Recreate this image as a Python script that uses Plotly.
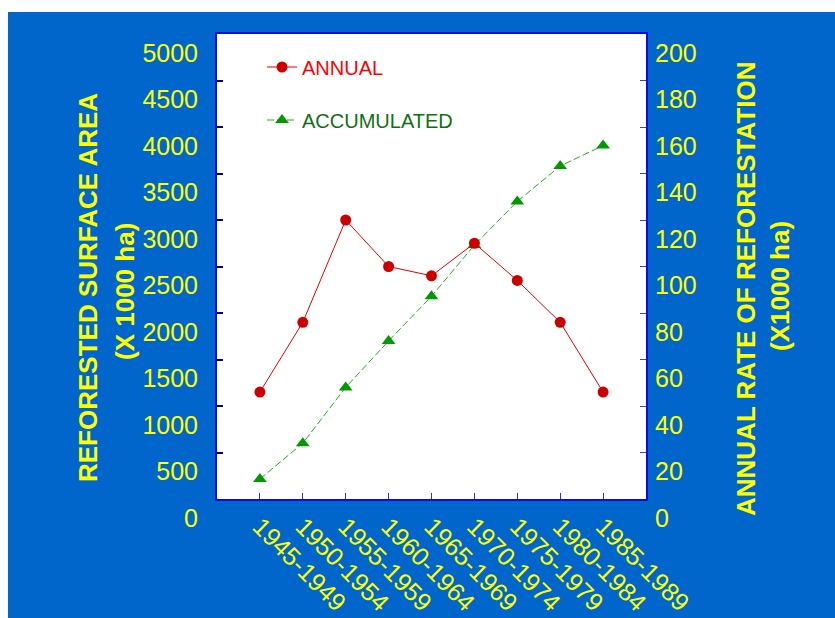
import plotly.graph_objects as go

# ---- data ----
periods = ["1945-1949", "1950-1954", "1955-1959", "1960-1964", "1965-1969",
           "1970-1974", "1975-1979", "1980-1984", "1985-1989"]
annual = [46, 76, 120, 100, 96, 110, 94, 76, 46]            # right axis (X1000 ha / yr)
accumulated = [215, 600, 1200, 1700, 2180, 2730, 3200, 3580, 3800]  # left axis (X1000 ha)
left_ticks = [0, 500, 1000, 1500, 2000, 2500, 3000, 3500, 4000, 4500, 5000]
right_ticks = [0, 20, 40, 60, 80, 100, 120, 140, 160, 180, 200]

# ---- layout geometry (pixels) ----
W, H = 835, 618
L, R, T, B = 217, 835 - 646, 34, 618 - 499
PW, PH = W - L - R, H - T - B

def px(xp):
    return (xp - L) / PW

def py(yp):
    return (H - B - yp) / PH

FONT = "Arial, Liberation Sans, sans-serif"
YELLOW = "#FFFF00"
BG = "#0066CC"

fig = go.Figure()
fig.add_trace(go.Scatter(
    x=periods, y=annual, name="ANNUAL", yaxis="y2", mode="lines+markers",
    line=dict(color="#E00000", width=1),
    marker=dict(symbol="circle", size=11, color="#CC0000"),
    legend="legend", cliponaxis=False,
))
fig.add_trace(go.Scatter(
    x=periods, y=accumulated, name="ACCUMULATED", yaxis="y", mode="lines+markers",
    line=dict(color="#22AA22", width=1, dash="7px,3px"),
    marker=dict(symbol="triangle-up", size=12, color="#009900"),
    legend="legend2", cliponaxis=False,
))

axis_line = "#0A0AE6"
fig.update_layout(
    width=W, height=H,
    margin=dict(l=L, r=R, t=T, b=B, pad=0, autoexpand=False),
    paper_bgcolor=BG, plot_bgcolor="white",
    font=dict(family=FONT, color=YELLOW, size=25),
    xaxis=dict(
        type="category", range=[-1, 9], showgrid=False, zeroline=False, automargin=False,
        showline=True, linecolor=axis_line, linewidth=2, mirror=True,
        ticks="inside", ticklen=6, tickwidth=1, tickcolor="#3030C0",
        tickangle=45, tickfont=dict(size=25, color=YELLOW, family=FONT),
        ticklabelstandoff=1,
    ),
    yaxis=dict(
        range=[0, 5000], tickvals=left_ticks, showgrid=False, zeroline=False, automargin=False,
        showline=True, linecolor=axis_line, linewidth=2,
        ticks="inside", ticklen=6, tickwidth=2, tickcolor="#000080",
        tickfont=dict(size=25, color=YELLOW, family=FONT),
        ticklabelshift=19, ticklabelstandoff=12,
    ),
    yaxis2=dict(
        range=[0, 200], tickvals=right_ticks, overlaying="y", side="right",
        showgrid=False, zeroline=False, automargin=False,
        showline=True, linecolor=axis_line, linewidth=2,
        ticks="inside", ticklen=6, tickwidth=1, tickcolor="#4040C0",
        tickfont=dict(size=25, color=YELLOW, family=FONT),
        ticklabelshift=19, ticklabelstandoff=2,
    ),
    legend=dict(
        x=px(262), y=py(67), xanchor="left", yanchor="middle",
        bgcolor="rgba(0,0,0,0)", borderwidth=0,
        font=dict(size=20, color="#FF0000", family=FONT),
    ),
    legend2=dict(
        x=px(262), y=py(120), xanchor="left", yanchor="middle",
        bgcolor="rgba(0,0,0,0)", borderwidth=0,
        font=dict(size=20, color="#107010", family=FONT),
    ),
    showlegend=True,
)

title_font = dict(size=26, color=YELLOW, family=FONT)
fig.add_annotation(text="<b>REFORESTED SURFACE AREA</b>", xref="paper", yref="paper",
                   x=px(88), y=py(288), xanchor="center", yanchor="middle",
                   textangle=-90, showarrow=False, font=title_font)
fig.add_annotation(text="<b>(X 1000 ha)</b>", xref="paper", yref="paper",
                   x=px(125), y=py(292), xanchor="center", yanchor="middle",
                   textangle=-90, showarrow=False, font=title_font)
fig.add_annotation(text="<b>ANNUAL RATE OF REFORESTATION</b>", xref="paper", yref="paper",
                   x=px(746), y=py(289), xanchor="center", yanchor="middle",
                   textangle=-90, showarrow=False, font=title_font)
fig.add_annotation(text="<b>(X1000 ha)</b>", xref="paper", yref="paper",
                   x=px(780), y=py(286), xanchor="center", yanchor="middle",
                   textangle=-90, showarrow=False, font=title_font)

# white strips at top and left edges of the slide
fig.add_shape(type="rect", xref="paper", yref="paper",
              x0=px(0), x1=px(W), y0=py(12), y1=py(0),
              fillcolor="white", line_width=0, layer="above")
fig.add_shape(type="rect", xref="paper", yref="paper",
              x0=px(0), x1=px(8), y0=py(H), y1=py(0),
              fillcolor="white", line_width=0, layer="above")

fig.write_html("out.html")
